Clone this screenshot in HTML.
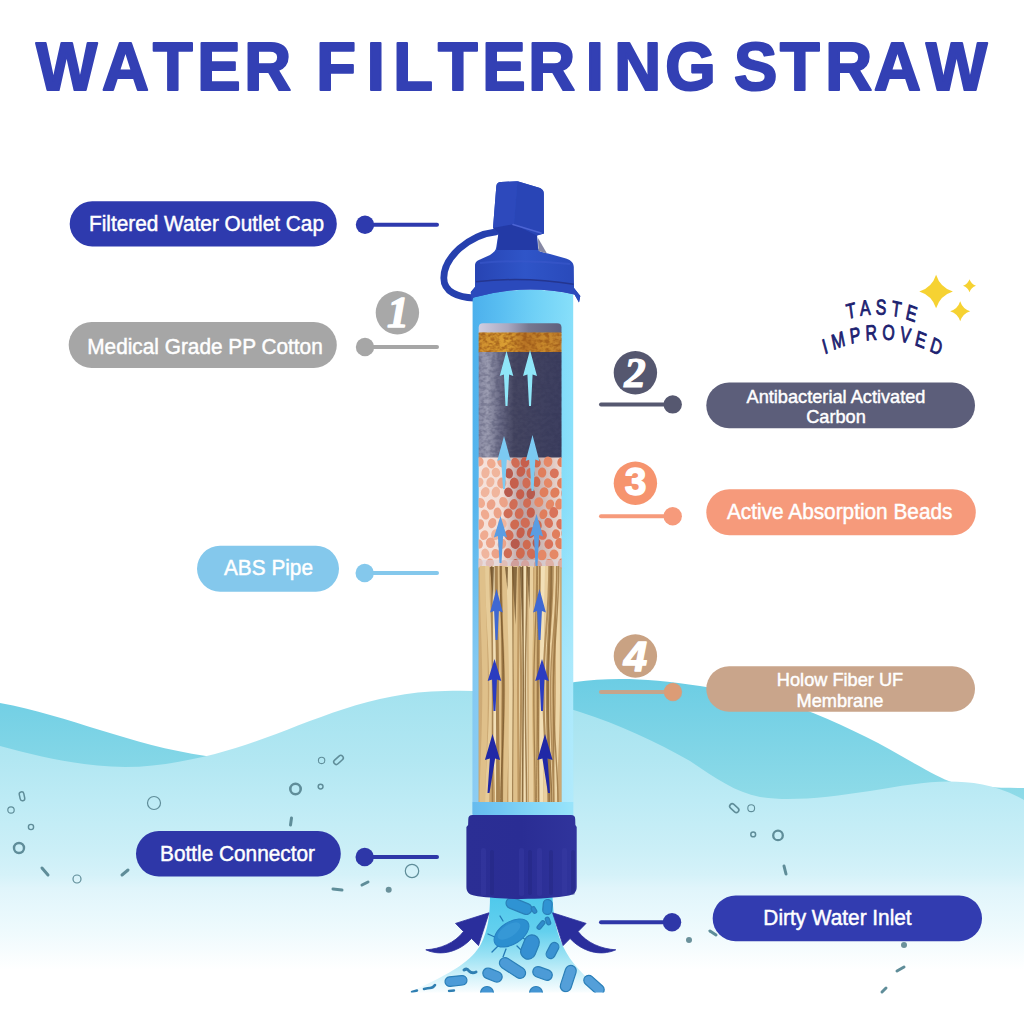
<!DOCTYPE html>
<html lang="en">
<head>
<meta charset="utf-8">
<title>Water Filtering Straw</title>
<style>
html,body{margin:0;padding:0;background:#fff;}
body{width:1024px;height:1024px;overflow:hidden;font-family:"Liberation Sans",sans-serif;}
svg{display:block;position:absolute;left:0;top:0;}
</style>
</head>
<body>
<svg width="1024" height="1024" viewBox="0 0 1024 1024">
<defs>
<linearGradient id="gFront" x1="0" y1="690" x2="0" y2="970" gradientUnits="userSpaceOnUse">
<stop offset="0" stop-color="#a3e2ef"/><stop offset="0.25" stop-color="#b2e7f2"/><stop offset="0.393" stop-color="#bdebf5"/><stop offset="0.571" stop-color="#cbeff7"/><stop offset="0.661" stop-color="#d5f2f9"/><stop offset="0.707" stop-color="#e0f5fb"/><stop offset="0.857" stop-color="#eefafd"/><stop offset="1" stop-color="#ffffff"/>
</linearGradient>
<linearGradient id="gBack" x1="0" y1="680" x2="0" y2="800" gradientUnits="userSpaceOnUse">
<stop offset="0" stop-color="#6ccde4"/><stop offset="1" stop-color="#8fdbe8"/>
</linearGradient>
<linearGradient id="gBody" x1="473" y1="0" x2="575" y2="0" gradientUnits="userSpaceOnUse">
<stop offset="0" stop-color="#4cb0ec"/><stop offset="0.25" stop-color="#58bdf1"/><stop offset="0.6" stop-color="#6fd0f6"/><stop offset="1" stop-color="#88e0fa"/>
</linearGradient>
<linearGradient id="gBodyV" x1="0" y1="300" x2="0" y2="815" gradientUnits="userSpaceOnUse">
<stop offset="0" stop-color="#ffffff" stop-opacity="0"/><stop offset="0.4" stop-color="#ffffff" stop-opacity="0.06"/><stop offset="0.7" stop-color="#ffffff" stop-opacity="0.3"/><stop offset="1" stop-color="#ffffff" stop-opacity="0.36"/>
</linearGradient>
<linearGradient id="gCap" x1="473" y1="0" x2="577" y2="0" gradientUnits="userSpaceOnUse">
<stop offset="0" stop-color="#2743b2"/><stop offset="0.5" stop-color="#2f55c8"/><stop offset="1" stop-color="#2949ba"/>
</linearGradient>
<linearGradient id="gChar" x1="479" y1="0" x2="562" y2="0" gradientUnits="userSpaceOnUse">
<stop offset="0" stop-color="#8a8ba3"/><stop offset="0.1" stop-color="#9c9db2"/><stop offset="0.25" stop-color="#6a6b86"/><stop offset="0.42" stop-color="#454661"/><stop offset="1" stop-color="#3c3e5f"/>
</linearGradient>
<linearGradient id="gGray" x1="479" y1="0" x2="562" y2="0" gradientUnits="userSpaceOnUse">
<stop offset="0" stop-color="#cfcde0"/><stop offset="0.35" stop-color="#a9a8c0"/><stop offset="0.6" stop-color="#77778f"/><stop offset="1" stop-color="#5f607c"/>
</linearGradient>
<linearGradient id="gOrange" x1="479" y1="0" x2="562" y2="0" gradientUnits="userSpaceOnUse">
<stop offset="0" stop-color="#cf9030"/><stop offset="0.35" stop-color="#dba033"/><stop offset="0.55" stop-color="#b87425"/><stop offset="0.8" stop-color="#c98a2c"/><stop offset="1" stop-color="#c08130"/>
</linearGradient>
<linearGradient id="gBeadBg" x1="479" y1="0" x2="562" y2="0" gradientUnits="userSpaceOnUse">
<stop offset="0" stop-color="#f6e3dc"/><stop offset="0.28" stop-color="#f3ddd5"/><stop offset="0.5" stop-color="#b9a3a6"/><stop offset="0.7" stop-color="#c7b0ae"/><stop offset="1" stop-color="#efd9d0"/>
</linearGradient>
<linearGradient id="gFiber" x1="479" y1="0" x2="562" y2="0" gradientUnits="userSpaceOnUse">
<stop offset="0" stop-color="#e3c592"/><stop offset="0.5" stop-color="#c9a56f"/><stop offset="1" stop-color="#e0c28f"/>
</linearGradient>
<linearGradient id="gConn" x1="466" y1="0" x2="577" y2="0" gradientUnits="userSpaceOnUse">
<stop offset="0" stop-color="#2b2e94"/><stop offset="0.5" stop-color="#2a2d94"/><stop offset="1" stop-color="#30349c"/>
</linearGradient>
<linearGradient id="gFlare" x1="0" y1="897" x2="0" y2="995" gradientUnits="userSpaceOnUse">
<stop offset="0" stop-color="#4fc9ec"/><stop offset="0.35" stop-color="#63d0ee"/><stop offset="0.6" stop-color="#9be2f4"/><stop offset="0.85" stop-color="#dcf5fb"/><stop offset="1" stop-color="#ffffff"/>
</linearGradient>
<clipPath id="cWin"><path d="M478.7,802 V327.5 Q478.7,323.2 483,323.2 H557.2 Q561.5,323.2 561.5,327.5 V802 Z"/></clipPath>
<clipPath id="cFlare"><rect x="400" y="895" width="220" height="97.5"/></clipPath>
<filter id="mottle" x="0" y="0" width="100%" height="100%" color-interpolation-filters="sRGB">
<feTurbulence type="fractalNoise" baseFrequency="0.22 0.3" numOctaves="2" seed="4" result="n"/>
<feColorMatrix in="n" type="matrix" values="0 0 0 0 0 0 0 0 0 0 0 0 0 0 0 3.2 0 0 0 -1.25" result="a"/>
<feComposite in="SourceGraphic" in2="a" operator="in"/>
</filter>
<filter id="blur1" x="-20%" y="-20%" width="140%" height="140%"><feGaussianBlur stdDeviation="0.6"/></filter>
<filter id="blur2" x="-20%" y="-20%" width="140%" height="140%"><feGaussianBlur stdDeviation="1.2"/></filter>
</defs>
<rect width="1024" height="1024" fill="#ffffff"/>
<path d="M0,703 C70,716 130,745 206,756 C300,770 400,730 473,700 L575,682 C610,677 650,678 700,686 C745,693 785,702 814.4,713.4 C850,728 882,744 915,763.8 C930,772 942,779 954,783 C975,787 1000,788 1024,788 L1024,860 L0,860 Z" fill="url(#gBack)"/>
<path d="M0,746 C40,757 80,766 125,767 C160,767 190,760 215,754 C290,735 355,692 445,691 C500,689 540,698 580,712 C620,725 655,741 690,761 C715,778 735,792 760,797 C790,802 830,797 870,791 C900,786 925,781.5 949,781.5 C972,781.5 998,785 1024,800 L1024,1024 L0,1024 Z" fill="url(#gFront)"/>
<circle cx="154" cy="803" r="6.5" fill="none" stroke="#5f8d99" stroke-width="1.2"/>
<circle cx="295.5" cy="789" r="5.2" fill="none" stroke="#5f8d99" stroke-width="2.6"/>
<circle cx="320.6" cy="786.6" r="2.4" fill="none" stroke="#5f8d99" stroke-width="1.5"/>
<circle cx="321.6" cy="760.4" r="3.2" fill="none" stroke="#5f8d99" stroke-width="1.1"/>
<circle cx="11" cy="810" r="3.2" fill="none" stroke="#5f8d99" stroke-width="1.2"/>
<circle cx="31" cy="827" r="2.6" fill="none" stroke="#5f8d99" stroke-width="1.4"/>
<circle cx="19" cy="848" r="5" fill="none" stroke="#5f8d99" stroke-width="2.4"/>
<circle cx="77" cy="879" r="4" fill="none" stroke="#5f8d99" stroke-width="1.2"/>
<circle cx="412" cy="871" r="6.7" fill="none" stroke="#5f8d99" stroke-width="1.2"/>
<circle cx="388.7" cy="889.7" r="3" fill="#6a919b"/>
<circle cx="751.2" cy="808.2" r="3.4" fill="none" stroke="#5f8d99" stroke-width="1.1"/>
<circle cx="778" cy="835.4" r="4.8" fill="none" stroke="#5f8d99" stroke-width="2.3"/>
<circle cx="753.2" cy="834.4" r="2.4" fill="none" stroke="#5f8d99" stroke-width="1.5"/>
<circle cx="689" cy="940" r="3" fill="#6a919b"/>
<circle cx="904" cy="945" r="3" fill="#6a919b"/>
<line x1="42" y1="868" x2="48" y2="875" stroke="#5f8d99" stroke-width="3" stroke-linecap="round"/>
<line x1="122" y1="875" x2="128" y2="870" stroke="#5f8d99" stroke-width="3" stroke-linecap="round"/>
<line x1="291.5" y1="818" x2="290.5" y2="825" stroke="#5f8d99" stroke-width="3" stroke-linecap="round"/>
<line x1="333" y1="889" x2="342" y2="890" stroke="#5f8d99" stroke-width="3" stroke-linecap="round"/>
<line x1="362" y1="885" x2="368" y2="882" stroke="#5f8d99" stroke-width="3" stroke-linecap="round"/>
<line x1="784" y1="866" x2="786" y2="874" stroke="#5f8d99" stroke-width="3" stroke-linecap="round"/>
<line x1="710" y1="931" x2="716" y2="935" stroke="#5f8d99" stroke-width="3" stroke-linecap="round"/>
<line x1="897" y1="971" x2="904" y2="967" stroke="#5f8d99" stroke-width="3" stroke-linecap="round"/>
<line x1="882" y1="992" x2="886" y2="988" stroke="#5f8d99" stroke-width="3" stroke-linecap="round"/>
<rect x="333" y="757.4" width="11" height="5" rx="2.5" transform="rotate(-42 338.5 759.9)" fill="none" stroke="#5f8d99" stroke-width="1.6"/>
<rect x="729" y="805.7" width="10.5" height="5" rx="2.5" transform="rotate(42 734.3 808.2)" fill="none" stroke="#5f8d99" stroke-width="1.6"/>
<rect x="17.5" y="794" width="9" height="4.6" rx="2.3" transform="rotate(78 22 796.3)" fill="none" stroke="#5f8d99" stroke-width="1.5"/>
<g clip-path="url(#cFlare)">
<path d="M490,896 C490,915 488,930 481,944 C472,960 455,972 408,993 L608,993 C590,982 575,968 566,952 C556,934 553,915 552.5,896 Z" fill="url(#gFlare)"/>
<g stroke="#2479b5" stroke-width="1.3" stroke-linecap="round" fill="none">
<path d="M497,938 L488,934 M499,945 L492,952 M506,949 L503,957 M517,946 L523,952 M503,921 L500,916 M523,938 L531,943"/>
</g>
<ellipse cx="511.5" cy="933" rx="19.5" ry="11" transform="rotate(-33 511.5 933)" fill="#2c8fd0" stroke="#2680c2" stroke-width="1"/>
<ellipse cx="509" cy="931" rx="13" ry="6" transform="rotate(-33 509 931)" fill="#3b9bd8" opacity="0.7"/>
<rect x="517.5" y="939.5" width="25" height="15" rx="7.5" transform="rotate(-68 530 947)" fill="#3590d2" stroke="#2a7fb8" stroke-width="1.2" opacity="1"/>
<rect x="544" y="946" width="17" height="9" rx="4.5" transform="rotate(-62 552.5 950.5)" fill="#3a92d2" stroke="#2a7fb8" stroke-width="1.2" opacity="1"/>
<rect x="505.5" y="900.5" width="27" height="11" rx="5.5" transform="rotate(22 519 906)" fill="#2f93d3" stroke="#2a7fb8" stroke-width="1.2" opacity="1"/>
<rect x="540" y="902.5" width="15" height="9" rx="4.5" transform="rotate(-85 547.5 907)" fill="#2f93d3" stroke="#2a7fb8" stroke-width="1.2" opacity="1"/>
<rect x="530.5" y="908" width="7" height="4" rx="2" transform="rotate(60 534 910)" fill="#2f8bcb" stroke="#2a7fb8" stroke-width="1.2" opacity="1"/>
<rect x="536" y="923" width="10" height="4" rx="2" transform="rotate(-50 541 925)" fill="#2f8bcb" stroke="#2a7fb8" stroke-width="1.2" opacity="1"/>
<rect x="544" y="919" width="8" height="4" rx="2" transform="rotate(70 548 921)" fill="#2f8bcb" stroke="#2a7fb8" stroke-width="1.2" opacity="1"/>
<rect x="498" y="962.5" width="29" height="11" rx="5.5" transform="rotate(33 512.5 968)" fill="#4c9bd7" stroke="#2a7fb8" stroke-width="1.2" opacity="1"/>
<rect x="482.5" y="969.8" width="20" height="10.5" rx="5.2" transform="rotate(22 492.5 975)" fill="#4c9bd7" stroke="#2a7fb8" stroke-width="1.2" opacity="1"/>
<rect x="532.5" y="968.2" width="20" height="10.5" rx="5.2" transform="rotate(20 542.5 973.5)" fill="#4c9bd7" stroke="#2a7fb8" stroke-width="1.2" opacity="1"/>
<rect x="554.8" y="973" width="27" height="11" rx="5.5" transform="rotate(-72 568.3 978.5)" fill="#549fd9" stroke="#2a7fb8" stroke-width="1.2" opacity="1"/>
<rect x="582" y="980" width="24" height="10" rx="5" transform="rotate(42 594 985)" fill="#549fd9" stroke="#2a7fb8" stroke-width="1.2" opacity="1"/>
<rect x="445" y="976.2" width="22" height="9.5" rx="4.8" transform="rotate(-6 456 981)" fill="#4c9bd7" stroke="#2a7fb8" stroke-width="1.2" opacity="1"/>
<rect x="480.5" y="986.5" width="13" height="13" rx="6.5" transform="rotate(0 487 993)" fill="#4495d3" stroke="#2a7fb8" stroke-width="1.2" opacity="1"/>
<rect x="529.5" y="986.5" width="13" height="13" rx="6.5" transform="rotate(0 536 993)" fill="#4495d3" stroke="#2a7fb8" stroke-width="1.2" opacity="1"/>
<path d="M464,970 q3,-2 5,1 q3,3 7,1" fill="none" stroke="#2f7fb2" stroke-width="3" stroke-linecap="round"/>
<path d="M424,989 q4,-1 6,-1 q3,0 5,-3" fill="none" stroke="#2f7fb2" stroke-width="2.6" stroke-linecap="round"/>
<path d="M412,992 l5,-1.5 M449,991 l5,-0.5" fill="none" stroke="#2f7fb2" stroke-width="2.4" stroke-linecap="round"/>
</g>
<path d="M425.8,949.8 C440,949 455,943 463.5,931.5 L455.5,923.4 L489,912.8 L478.5,945.6 L471.5,938.5 C460,951 442,957 425.8,949.8 Z" fill="#2a2e9c" stroke="#2a2e9c" stroke-width="0.8" stroke-linejoin="round"/>
<path d="M425.8,949.8 C440,949 455,943 463.5,931.5 L455.5,923.4 L489,912.8 L478.5,945.6 L471.5,938.5 C460,951 442,957 425.8,949.8 Z" transform="translate(1041.6,0) scale(-1,1)" fill="#2a2e9c" stroke="#2a2e9c" stroke-width="0.8" stroke-linejoin="round"/>
<path d="M496,231.8 C468,235 443.8,258 443.8,278 C443.8,292 458,297.5 474,298" fill="none" stroke="#2640ae" stroke-width="6.8" stroke-linecap="round"/>
<path d="M472.6,297 Q525,284 573.2,294 L573.2,814 L472.6,814 Z" fill="url(#gBody)"/>
<path d="M472.6,297 Q525,284 573.2,294 L573.2,814 L472.6,814 Z" fill="url(#gBodyV)"/>
<g clip-path="url(#cWin)">
<rect x="478" y="323" width="85" height="10" fill="url(#gGray)"/>
<rect x="478" y="332.5" width="85" height="20" fill="url(#gOrange)"/>
<rect x="478" y="332.5" width="85" height="20" fill="#9a5718" filter="url(#mottle)" opacity="0.75"/>
<rect x="478" y="352" width="85" height="106" fill="url(#gChar)"/>
<rect x="478" y="352" width="85" height="106" fill="#2f3050" filter="url(#mottle)" opacity="0.25"/>
<rect x="478" y="457.5" width="85" height="111" fill="url(#gBeadBg)"/>
<ellipse cx="479" cy="461.6" rx="4.5" ry="4.9" transform="rotate(-22.6 479 461.6)" fill="#eb9c80" opacity="0.9"/>
<ellipse cx="491.3" cy="463.6" rx="4.2" ry="4.9" transform="rotate(-23.1 491.3 463.6)" fill="#efa587" opacity="0.9"/>
<ellipse cx="501.6" cy="462.3" rx="4.1" ry="5.3" transform="rotate(-18.8 501.6 462.3)" fill="#eb9c80" opacity="0.9"/>
<ellipse cx="515.5" cy="462.7" rx="4.1" ry="5.2" transform="rotate(-22.5 515.5 462.7)" fill="#d06c55" opacity="1"/>
<ellipse cx="524.9" cy="462.3" rx="4.3" ry="5.3" transform="rotate(3.5 524.9 462.3)" fill="#c65f4c" opacity="1"/>
<ellipse cx="536.5" cy="462.7" rx="4.3" ry="4.9" transform="rotate(-6.4 536.5 462.7)" fill="#cf6a50" opacity="1"/>
<ellipse cx="548" cy="461.7" rx="4.4" ry="5.2" transform="rotate(1.6 548 461.7)" fill="#e58866" opacity="1"/>
<ellipse cx="561.8" cy="462.1" rx="4.4" ry="5" transform="rotate(14.7 561.8 462.1)" fill="#e07e5c" opacity="1"/>
<ellipse cx="485.5" cy="472.8" rx="4.1" ry="5.6" transform="rotate(11.5 485.5 472.8)" fill="#f0b096" opacity="0.9"/>
<ellipse cx="495.9" cy="472.5" rx="4.2" ry="4.8" transform="rotate(-17.4 495.9 472.5)" fill="#f0b096" opacity="0.9"/>
<ellipse cx="508.9" cy="473.4" rx="4.1" ry="5.2" transform="rotate(-8 508.9 473.4)" fill="#b85a4d" opacity="1"/>
<ellipse cx="520.9" cy="471.6" rx="4.2" ry="5.3" transform="rotate(22.2 520.9 471.6)" fill="#c65f4c" opacity="1"/>
<ellipse cx="530.6" cy="473.2" rx="4.2" ry="5.3" transform="rotate(-10.8 530.6 473.2)" fill="#d06c55" opacity="1"/>
<ellipse cx="542.1" cy="472.6" rx="4.2" ry="5" transform="rotate(5.5 542.1 472.6)" fill="#e07e5c" opacity="1"/>
<ellipse cx="554.3" cy="473.3" rx="4.5" ry="4.9" transform="rotate(-5.5 554.3 473.3)" fill="#d9735a" opacity="1"/>
<ellipse cx="566.4" cy="472.8" rx="4.5" ry="5" transform="rotate(16 566.4 472.8)" fill="#e07e5c" opacity="1"/>
<ellipse cx="479.3" cy="482.5" rx="4" ry="4.9" transform="rotate(22.9 479.3 482.5)" fill="#f0b096" opacity="0.9"/>
<ellipse cx="490.4" cy="482.2" rx="4" ry="5" transform="rotate(16.6 490.4 482.2)" fill="#f0b096" opacity="0.9"/>
<ellipse cx="501.8" cy="483" rx="4.6" ry="5.4" transform="rotate(3.3 501.8 483)" fill="#eb9c80" opacity="0.9"/>
<ellipse cx="514.3" cy="483.2" rx="4.5" ry="5.6" transform="rotate(-2.2 514.3 483.2)" fill="#c65f4c" opacity="1"/>
<ellipse cx="526.4" cy="483.1" rx="4" ry="5.3" transform="rotate(-5.1 526.4 483.1)" fill="#d06c55" opacity="1"/>
<ellipse cx="536.4" cy="481.8" rx="4" ry="5.3" transform="rotate(-3 536.4 481.8)" fill="#cf6a50" opacity="1"/>
<ellipse cx="548.1" cy="483.1" rx="4.2" ry="4.8" transform="rotate(-19.9 548.1 483.1)" fill="#e58866" opacity="1"/>
<ellipse cx="561.7" cy="483.2" rx="4.6" ry="5.3" transform="rotate(6.7 561.7 483.2)" fill="#e07e5c" opacity="1"/>
<ellipse cx="485.2" cy="492.1" rx="4.2" ry="5.2" transform="rotate(24.7 485.2 492.1)" fill="#f0b096" opacity="0.9"/>
<ellipse cx="495.8" cy="492.1" rx="4.2" ry="5.4" transform="rotate(12 495.8 492.1)" fill="#f0b096" opacity="0.9"/>
<ellipse cx="508.5" cy="492.3" rx="4.3" ry="4.8" transform="rotate(-17.7 508.5 492.3)" fill="#b85a4d" opacity="1"/>
<ellipse cx="520.2" cy="494.3" rx="4.1" ry="5.1" transform="rotate(9.8 520.2 494.3)" fill="#c65f4c" opacity="1"/>
<ellipse cx="530.8" cy="493.8" rx="4.3" ry="5.4" transform="rotate(6.8 530.8 493.8)" fill="#b85a4d" opacity="1"/>
<ellipse cx="544" cy="492.3" rx="4.4" ry="5" transform="rotate(15.9 544 492.3)" fill="#e07e5c" opacity="1"/>
<ellipse cx="554.9" cy="492.7" rx="4.5" ry="5.2" transform="rotate(24.5 554.9 492.7)" fill="#e07e5c" opacity="1"/>
<ellipse cx="565.7" cy="493.4" rx="4.6" ry="5.6" transform="rotate(-2.6 565.7 493.4)" fill="#d9735a" opacity="1"/>
<ellipse cx="480.7" cy="502.9" rx="4.2" ry="5.1" transform="rotate(-19.9 480.7 502.9)" fill="#efa587" opacity="0.9"/>
<ellipse cx="491.1" cy="504.6" rx="4.2" ry="5.3" transform="rotate(17 491.1 504.6)" fill="#eb9c80" opacity="0.9"/>
<ellipse cx="503.5" cy="502.2" rx="4.2" ry="5.4" transform="rotate(-19 503.5 502.2)" fill="#eb9c80" opacity="0.9"/>
<ellipse cx="513.5" cy="504.3" rx="4.1" ry="5.4" transform="rotate(14.5 513.5 504.3)" fill="#d06c55" opacity="1"/>
<ellipse cx="527.1" cy="503" rx="4" ry="4.9" transform="rotate(12.2 527.1 503)" fill="#d06c55" opacity="1"/>
<ellipse cx="538.8" cy="502.1" rx="4.5" ry="4.9" transform="rotate(20.2 538.8 502.1)" fill="#e58866" opacity="1"/>
<ellipse cx="549.9" cy="504.5" rx="4" ry="5.2" transform="rotate(21.9 549.9 504.5)" fill="#e58866" opacity="1"/>
<ellipse cx="559.5" cy="504.1" rx="4.3" ry="5.5" transform="rotate(7.5 559.5 504.1)" fill="#e58866" opacity="1"/>
<ellipse cx="485.1" cy="514.5" rx="4" ry="5.2" transform="rotate(-23.6 485.1 514.5)" fill="#efa587" opacity="0.9"/>
<ellipse cx="497.6" cy="513" rx="4" ry="5.5" transform="rotate(-4 497.6 513)" fill="#eb9c80" opacity="0.9"/>
<ellipse cx="508.1" cy="513.4" rx="4.5" ry="4.9" transform="rotate(16.4 508.1 513.4)" fill="#d06c55" opacity="1"/>
<ellipse cx="519.2" cy="513.5" rx="4.3" ry="5.4" transform="rotate(13.8 519.2 513.5)" fill="#d06c55" opacity="1"/>
<ellipse cx="530.8" cy="512.6" rx="4.1" ry="5.2" transform="rotate(2.8 530.8 512.6)" fill="#c65f4c" opacity="1"/>
<ellipse cx="543.4" cy="514.2" rx="3.9" ry="5" transform="rotate(19.2 543.4 514.2)" fill="#e07e5c" opacity="1"/>
<ellipse cx="553.7" cy="512.5" rx="4.4" ry="5.5" transform="rotate(3.1 553.7 512.5)" fill="#d9735a" opacity="1"/>
<ellipse cx="566.4" cy="513.8" rx="4" ry="5" transform="rotate(5.3 566.4 513.8)" fill="#e58866" opacity="1"/>
<ellipse cx="479.5" cy="524.5" rx="4.4" ry="5.5" transform="rotate(22.1 479.5 524.5)" fill="#eb9c80" opacity="0.9"/>
<ellipse cx="492.2" cy="523.1" rx="4" ry="5.2" transform="rotate(19.6 492.2 523.1)" fill="#eb9c80" opacity="0.9"/>
<ellipse cx="502.5" cy="523.4" rx="4.1" ry="4.9" transform="rotate(-21.4 502.5 523.4)" fill="#f0b096" opacity="0.9"/>
<ellipse cx="514.7" cy="524.4" rx="4.4" ry="5.1" transform="rotate(22 514.7 524.4)" fill="#cf6a50" opacity="1"/>
<ellipse cx="525.3" cy="522.8" rx="4.6" ry="5.1" transform="rotate(-14 525.3 522.8)" fill="#d06c55" opacity="1"/>
<ellipse cx="537.5" cy="525" rx="4.2" ry="5.2" transform="rotate(-16.9 537.5 525)" fill="#cf6a50" opacity="1"/>
<ellipse cx="548.7" cy="522.9" rx="4.2" ry="5.1" transform="rotate(-20.4 548.7 522.9)" fill="#d9735a" opacity="1"/>
<ellipse cx="560.6" cy="524.2" rx="4.3" ry="5.2" transform="rotate(-8.4 560.6 524.2)" fill="#d9735a" opacity="1"/>
<ellipse cx="484.2" cy="535.2" rx="4" ry="5" transform="rotate(23.6 484.2 535.2)" fill="#efa587" opacity="0.9"/>
<ellipse cx="495.7" cy="534.6" rx="4.5" ry="5.5" transform="rotate(12.8 495.7 534.6)" fill="#f0b096" opacity="0.9"/>
<ellipse cx="509" cy="535.1" rx="4.5" ry="5.3" transform="rotate(-17.5 509 535.1)" fill="#d06c55" opacity="1"/>
<ellipse cx="520.6" cy="532.8" rx="4" ry="5.5" transform="rotate(15 520.6 532.8)" fill="#c65f4c" opacity="1"/>
<ellipse cx="531.1" cy="532.6" rx="4" ry="5.5" transform="rotate(15.1 531.1 532.6)" fill="#c65f4c" opacity="1"/>
<ellipse cx="542.2" cy="534.8" rx="4.6" ry="5.1" transform="rotate(-24.4 542.2 534.8)" fill="#d9735a" opacity="1"/>
<ellipse cx="556" cy="534.2" rx="4.1" ry="4.9" transform="rotate(1.3 556 534.2)" fill="#e07e5c" opacity="1"/>
<ellipse cx="565.6" cy="532.7" rx="4.3" ry="5.2" transform="rotate(21.6 565.6 532.7)" fill="#e07e5c" opacity="1"/>
<ellipse cx="478.7" cy="544" rx="4.1" ry="4.8" transform="rotate(-16.1 478.7 544)" fill="#eb9c80" opacity="0.9"/>
<ellipse cx="490.5" cy="542.8" rx="4.6" ry="5.2" transform="rotate(0.3 490.5 542.8)" fill="#eb9c80" opacity="0.9"/>
<ellipse cx="502" cy="544" rx="4.2" ry="5.2" transform="rotate(15.9 502 544)" fill="#eb9c80" opacity="0.9"/>
<ellipse cx="515.2" cy="543.8" rx="4.6" ry="5.1" transform="rotate(9.4 515.2 543.8)" fill="#b85a4d" opacity="1"/>
<ellipse cx="526.8" cy="544.6" rx="4.1" ry="4.8" transform="rotate(-4.8 526.8 544.6)" fill="#cf6a50" opacity="1"/>
<ellipse cx="536.5" cy="543" rx="3.9" ry="5.3" transform="rotate(-3.5 536.5 543)" fill="#b85a4d" opacity="1"/>
<ellipse cx="548.8" cy="544.1" rx="4.4" ry="4.8" transform="rotate(4.9 548.8 544.1)" fill="#d9735a" opacity="1"/>
<ellipse cx="559.9" cy="543.5" rx="4.6" ry="5.6" transform="rotate(-11.8 559.9 543.5)" fill="#e07e5c" opacity="1"/>
<ellipse cx="485.4" cy="553.6" rx="4" ry="5.1" transform="rotate(-14.1 485.4 553.6)" fill="#f0b096" opacity="0.9"/>
<ellipse cx="495.8" cy="553.7" rx="4.3" ry="4.8" transform="rotate(-15 495.8 553.7)" fill="#eb9c80" opacity="0.9"/>
<ellipse cx="507.9" cy="553.2" rx="4.2" ry="5" transform="rotate(4.3 507.9 553.2)" fill="#d06c55" opacity="1"/>
<ellipse cx="520.4" cy="553.2" rx="4.4" ry="5.5" transform="rotate(7.9 520.4 553.2)" fill="#cf6a50" opacity="1"/>
<ellipse cx="531.4" cy="553.8" rx="4.4" ry="5.3" transform="rotate(-17.5 531.4 553.8)" fill="#d06c55" opacity="1"/>
<ellipse cx="542.1" cy="555.2" rx="4.4" ry="5.4" transform="rotate(6.4 542.1 555.2)" fill="#e58866" opacity="1"/>
<ellipse cx="554" cy="554.4" rx="4.5" ry="4.8" transform="rotate(3.4 554 554.4)" fill="#e58866" opacity="1"/>
<ellipse cx="567" cy="555.1" rx="4.4" ry="5" transform="rotate(9.1 567 555.1)" fill="#e58866" opacity="1"/>
<ellipse cx="478.3" cy="563.5" rx="4.2" ry="5.2" transform="rotate(23 478.3 563.5)" fill="#f0b096" opacity="0.9"/>
<ellipse cx="489.9" cy="563.2" rx="4.2" ry="4.8" transform="rotate(9 489.9 563.2)" fill="#eb9c80" opacity="0.9"/>
<ellipse cx="503.5" cy="565.1" rx="4" ry="5.2" transform="rotate(19.9 503.5 565.1)" fill="#eb9c80" opacity="0.9"/>
<ellipse cx="514.9" cy="564.4" rx="4.1" ry="5.4" transform="rotate(17.3 514.9 564.4)" fill="#c65f4c" opacity="1"/>
<ellipse cx="525.2" cy="564.9" rx="4.2" ry="5.2" transform="rotate(-0.3 525.2 564.9)" fill="#d06c55" opacity="1"/>
<ellipse cx="538" cy="565.2" rx="4" ry="5" transform="rotate(-21.1 538 565.2)" fill="#cf6a50" opacity="1"/>
<ellipse cx="549.7" cy="564" rx="4.2" ry="5.2" transform="rotate(-18.3 549.7 564)" fill="#e58866" opacity="1"/>
<ellipse cx="561.9" cy="563.5" rx="4.1" ry="5.2" transform="rotate(8.8 561.9 563.5)" fill="#e07e5c" opacity="1"/>
<rect x="478" y="560" width="85" height="8" fill="#d9d4dc" opacity="0.55"/>
<rect x="478" y="567.5" width="85" height="236" fill="#b48c55"/>
<rect x="478" y="567.5" width="85" height="236" fill="url(#gFiber)" opacity="0.55"/>
<path d="M482.6,566 C482.6,620 485.1,640 485.1,690 C485.1,740 482.4,770 482.4,805" fill="none" stroke="#dfc08a" stroke-width="5.6"/>
<path d="M487.1,566 C487.1,620 491.3,640 491.3,690 C491.3,740 487.1,770 487.1,805" fill="none" stroke="#e6cb98" stroke-width="4.1"/>
<path d="M494.3,566 C494.3,620 493.8,640 493.8,690 C493.8,740 497.2,770 497.2,805" fill="none" stroke="#f2dfb6" stroke-width="4.1"/>
<path d="M498.2,566 C498.2,620 499.2,640 499.2,690 C499.2,740 498.8,770 498.8,805" fill="none" stroke="#dfc08a" stroke-width="4.1"/>
<path d="M504.1,566 C504.1,620 507.7,640 507.7,690 C507.7,740 504.4,770 504.4,805" fill="none" stroke="#dfc08a" stroke-width="5.1"/>
<path d="M509.4,566 C509.4,620 511.7,640 511.7,690 C511.7,740 511,770 511,805" fill="none" stroke="#ecd5a6" stroke-width="5.3"/>
<path d="M516,566 C516,620 515.1,640 515.1,690 C515.1,740 515.6,770 515.6,805" fill="none" stroke="#dfc08a" stroke-width="3.7"/>
<path d="M521.5,566 C521.5,620 521,640 521,690 C521,740 521,770 521,805" fill="none" stroke="#ecd5a6" stroke-width="3.7"/>
<path d="M525,566 C525,620 525.1,640 525.1,690 C525.1,740 525.6,770 525.6,805" fill="none" stroke="#f2dfb6" stroke-width="4.5"/>
<path d="M530.7,566 C530.7,620 531,640 531,690 C531,740 531.2,770 531.2,805" fill="none" stroke="#e9cf9e" stroke-width="4.9"/>
<path d="M536.8,566 C536.8,620 534.5,640 534.5,690 C534.5,740 536.3,770 536.3,805" fill="none" stroke="#d8b77f" stroke-width="5.1"/>
<path d="M542.8,566 C542.8,620 542,640 542,690 C542,740 541.2,770 541.2,805" fill="none" stroke="#f2dfb6" stroke-width="4.4"/>
<path d="M547.1,566 C547.1,620 547,640 547,690 C547,740 545.4,770 545.4,805" fill="none" stroke="#e9cf9e" stroke-width="4.2"/>
<path d="M553.2,566 C553.2,620 549,640 549,690 C549,740 550.2,770 550.2,805" fill="none" stroke="#e9cf9e" stroke-width="5.2"/>
<path d="M557.7,566 C557.7,620 558,640 558,690 C558,740 555,770 555,805" fill="none" stroke="#ecd5a6" stroke-width="4"/>
<path d="M495.5,566 C495.5,620 497,640 497,690 C497,740 497,770 497,805" fill="none" stroke="#9c7845" stroke-width="1.9" opacity="0.85"/>
<path d="M539.7,566 C539.7,620 537.5,640 537.5,690 C537.5,740 538.8,770 538.8,805" fill="none" stroke="#a98450" stroke-width="1.2" opacity="0.85"/>
<path d="M539.9,566 C539.9,620 538.4,640 538.4,690 C538.4,740 538.7,770 538.7,805" fill="none" stroke="#9c7845" stroke-width="1" opacity="0.85"/>
<path d="M551.1,566 C551.1,620 548.2,640 548.2,690 C548.2,740 549.3,770 549.3,805" fill="none" stroke="#7d5c30" stroke-width="1.8" opacity="0.85"/>
<path d="M549.2,566 C549.2,620 543.3,640 543.3,690 C543.3,740 548.4,770 548.4,805" fill="none" stroke="#a98450" stroke-width="2" opacity="0.85"/>
<path d="M519.7,566 C519.7,620 521.1,640 521.1,690 C521.1,740 519.7,770 519.7,805" fill="none" stroke="#a98450" stroke-width="2" opacity="0.85"/>
<path d="M501.1,566 C501.1,620 502.9,640 502.9,690 C502.9,740 502.1,770 502.1,805" fill="none" stroke="#8f6c3c" stroke-width="1.9" opacity="0.85"/>
<path d="M537.6,566 C537.6,620 537.2,640 537.2,690 C537.2,740 536.6,770 536.6,805" fill="none" stroke="#8f6c3c" stroke-width="0.9" opacity="0.85"/>
<path d="M491.7,566 C491.7,620 492.6,640 492.6,690 C492.6,740 492.5,770 492.5,805" fill="none" stroke="#9c7845" stroke-width="1.6" opacity="0.85"/>
<path d="M522.7,566 C522.7,620 523.3,640 523.3,690 C523.3,740 522.5,770 522.5,805" fill="none" stroke="#7d5c30" stroke-width="1.5" opacity="0.85"/>
<path d="M526.9,566 C526.9,620 525.4,640 525.4,690 C525.4,740 526.6,770 526.6,805" fill="none" stroke="#8f6c3c" stroke-width="1.5" opacity="0.85"/>
<path d="M558.7,566 C558.7,620 553.5,640 553.5,690 C553.5,740 558.1,770 558.1,805" fill="none" stroke="#9c7845" stroke-width="1.4" opacity="0.85"/>
<path d="M500.1,566 C500.1,620 504,640 504,690 C504,740 500.7,770 500.7,805" fill="none" stroke="#7d5c30" stroke-width="1" opacity="0.85"/>
<path d="M496.9,566 C496.9,620 498.2,640 498.2,690 C498.2,740 499.1,770 499.1,805" fill="none" stroke="#9c7845" stroke-width="1.6" opacity="0.85"/>
<path d="M553.2,566 C553.2,620 547.6,640 547.6,690 C547.6,740 551.1,770 551.1,805" fill="none" stroke="#a98450" stroke-width="1.3" opacity="0.85"/>
<path d="M512.5,566 C512.5,620 513.2,640 513.2,690 C513.2,740 512.6,770 512.6,805" fill="none" stroke="#8f6c3c" stroke-width="1.1" opacity="0.85"/>
<path d="M556.7,566 C556.7,620 553.4,640 553.4,690 C553.4,740 553.9,770 553.9,805" fill="none" stroke="#9c7845" stroke-width="1.2" opacity="0.85"/>
<path d="M550.5,566 C550.5,620 546.5,640 546.5,690 C546.5,740 549.3,770 549.3,805" fill="none" stroke="#9c7845" stroke-width="1.4" opacity="0.85"/>
<path d="M552.1,566 C552.1,620 547.6,640 547.6,690 C547.6,740 551.9,770 551.9,805" fill="none" stroke="#8f6c3c" stroke-width="1.1" opacity="0.85"/>
<path d="M557,566 C557,620 550.5,640 550.5,690 C550.5,740 553.6,770 553.6,805" fill="none" stroke="#a98450" stroke-width="1.4" opacity="0.85"/>
<path d="M536.8,566 C536.8,620 533.8,640 533.8,690 C533.8,740 535.3,770 535.3,805" fill="none" stroke="#9c7845" stroke-width="1.3" opacity="0.85"/>
<path d="M496.3,566 C496.3,620 497.7,640 497.7,690 C497.7,740 498.6,770 498.6,805" fill="none" stroke="#a98450" stroke-width="1.8" opacity="0.85"/>
<path d="M490,567 L494,567 L493.0,600 Z" fill="#6b4d28" opacity="0.75"/>
<path d="M512,567 L517,567 L515.5,625 Z" fill="#6b4d28" opacity="0.75"/>
<path d="M520,567 L523,567 L522.5,640 Z" fill="#6b4d28" opacity="0.75"/>
<path d="M527,567 L530,567 L529.5,610 Z" fill="#6b4d28" opacity="0.75"/>
<path d="M505,567 L508,567 L507.5,590 Z" fill="#6b4d28" opacity="0.75"/>
<path d="M506.5,351 L513.3,376 L509.1,374.5 L507.5,406 L505.5,406 L503.9,374.5 L499.7,376 Z" fill="#8fe6f8" opacity="1"/>
<path d="M530,350 L537,376 L532.6,374.5 L531,406 L529,406 L527.4,374.5 L523,376 Z" fill="#8fe6f8" opacity="1"/>
<path d="M504,436 L510.8,461 L506.8,459.5 L505,489 L503,489 L501.2,459.5 L497.2,461 Z" fill="#7ccaf2" opacity="1"/>
<path d="M532.5,435 L539.3,461 L535.3,459.5 L533.5,491 L531.5,491 L529.7,459.5 L525.7,461 Z" fill="#7ccaf2" opacity="1"/>
<path d="M500.5,516 L507.1,537.5 L503.1,536 L501.5,563 L499.5,563 L497.9,536 L493.9,537.5 Z" fill="#5a9de2" opacity="1"/>
<path d="M536.5,514 L543.1,536.5 L539.1,535 L537.5,566 L535.5,566 L533.9,535 L529.9,536.5 Z" fill="#5a9de2" opacity="1"/>
<path d="M496.5,589 L502.9,612.5 L498.9,611 L497.5,640 L495.5,640 L494.1,611 L490.1,612.5 Z" fill="#3f68d2" opacity="1"/>
<path d="M539.5,589 L545.9,612.5 L541.9,611 L540.5,640 L538.5,640 L537.1,611 L533.1,612.5 Z" fill="#3f68d2" opacity="1"/>
<path d="M494.5,659 L501.3,681 L496.9,679.5 L495.5,711 L493.5,711 L492.1,679.5 L487.7,681 Z" fill="#2b3cc0" opacity="1"/>
<path d="M542,659 L548.8,681 L544.4,679.5 L543,711 L541,711 L539.6,679.5 L535.2,681 Z" fill="#2b3cc0" opacity="1"/>
<path d="M492.5,734 L500.1,760 L495.1,758.5 L489.5,793 L487.5,793 L489.9,758.5 L484.9,760 Z" fill="#2028a6" opacity="1"/>
<path d="M545,734 L552.6,760 L547.6,758.5 L550,793 L548,793 L542.4,758.5 L537.4,760 Z" fill="#2028a6" opacity="1"/>
</g>
<path d="M471.5,300.5 L470.8,292 L475,287 L475,266 C475,262 477,260.5 480,259.5 L490,255 C494,252.5 496,250 496.3,247 L498.5,233 L493,228 L496.3,186.5 C496.5,183.5 498,182 501,182 L517.5,181.2 L540,188 C543,189.5 543.8,191 543.8,194 L544,233.5 L537,235.5 L538,248 L540,251.5 L550,254 L566,258.5 C571.5,260.5 573.6,263 573.8,267 L574,288 L580.3,296 L579,302.5 L574.5,294.5 Q525,283 473.5,297.5 Z" fill="url(#gCap)"/>
<path d="M496.3,186.5 C496.5,183.5 498,182 501,182 L517.5,181.2 L514,224 L493,228 Z" fill="#2d49bc"/>
<path d="M517.5,181.2 L540,188 C543,189.5 543.8,191 543.8,194 L544,233.5 L537,235.5 L514,224 Z" fill="#2945b6"/>
<path d="M493,228 L514,224 L537,235.5 L538,250 L497,250 L498.5,233 Z" fill="#233aa6"/>
<path d="M513,224.5 L541,233" stroke="#4c64d4" stroke-width="1.6" fill="none" stroke-linecap="round"/>
<path d="M538,238 L547,253.5 L538.5,251 Z" fill="#8688a4"/>
<path d="M475,281.5 Q525,276 574,284 L574,288 L580.3,296 L579,302.5 L574.5,294.5 Q525,283 473.5,297.5 L471.5,300.5 L470.8,292 L475,287 Z" fill="#2b4abc"/>
<path d="M476,281.8 Q525,276.3 573.5,284.3" stroke="#24358f" stroke-width="1.5" fill="none"/>
<path d="M480,263 Q525,259 570,264" stroke="#3a58cc" stroke-width="2" fill="none" opacity="0.6"/>
<rect x="472.6" y="802" width="100.6" height="14" fill="url(#gBody)"/>
<rect x="472.6" y="802" width="100.6" height="14" fill="#ffffff" opacity="0.15"/>
<path d="M468.3,819 Q468.3,815 472.5,815 L571,815 Q575.2,815 575.2,819 L575.4,825 L576.7,827 L576.7,887 C576.7,892 574,894.5 569,895.5 C545,900 498,900 474,895.5 C469,894.5 466.4,892 466.4,887 L466.4,827 L468.1,825 Z" fill="url(#gConn)"/>
<rect x="481" y="848" width="5" height="48" rx="2.5" fill="#3a3ea6" opacity="0.4" filter="url(#blur1)"/>
<rect x="519" y="848" width="5" height="48" rx="2.5" fill="#3a3ea6" opacity="0.4" filter="url(#blur1)"/>
<rect x="537" y="848" width="5" height="48" rx="2.5" fill="#3a3ea6" opacity="0.4" filter="url(#blur1)"/>
<rect x="562" y="848" width="5" height="48" rx="2.5" fill="#3a3ea6" opacity="0.4" filter="url(#blur1)"/>
<rect x="490" y="850" width="4" height="45" rx="2" fill="#23277f" opacity="0.4" filter="url(#blur1)"/>
<rect x="528" y="850" width="4" height="45" rx="2" fill="#23277f" opacity="0.4" filter="url(#blur1)"/>
<rect x="549" y="850" width="4" height="45" rx="2" fill="#23277f" opacity="0.4" filter="url(#blur1)"/>
<rect x="571" y="850" width="4" height="45" rx="2" fill="#23277f" opacity="0.4" filter="url(#blur1)"/>
<g font-family="'Liberation Sans', sans-serif">
<rect x="69.7" y="201.3" width="267.1" height="45.1" rx="22.5" fill="#2e3aae"/>
<text transform="translate(206.5,231) scale(1,1.1)" font-size="20.8" text-anchor="middle" fill="#ffffff" stroke="#ffffff" stroke-width="0.45">Filtered Water Outlet Cap</text>
<line x1="365" y1="224.7" x2="437" y2="224.7" stroke="#2e3aae" stroke-width="4" stroke-linecap="round"/><circle cx="365" cy="224.7" r="9.2" fill="#2e3aae"/>
<rect x="68.7" y="322" width="268.1" height="46" rx="23" fill="#a6a6a6"/>
<text transform="translate(205,354) scale(1,1.1)" font-size="20.8" text-anchor="middle" fill="#ffffff" stroke="#ffffff" stroke-width="0.45">Medical Grade PP Cotton</text>
<line x1="365" y1="347" x2="437" y2="347" stroke="#a6a6a6" stroke-width="4" stroke-linecap="round"/><circle cx="365" cy="347" r="9.2" fill="#a6a6a6"/>
<rect x="197" y="545.8" width="142" height="45.9" rx="23" fill="#84c8ec"/>
<text transform="translate(268.5,575.2) scale(1,1.1)" font-size="20.8" text-anchor="middle" fill="#ffffff" stroke="#ffffff" stroke-width="0.45">ABS Pipe</text>
<line x1="364.7" y1="573" x2="437" y2="573" stroke="#84c8ec" stroke-width="4" stroke-linecap="round"/><circle cx="364.7" cy="573" r="9.2" fill="#84c8ec"/>
<rect x="136" y="831" width="204.8" height="45.6" rx="22.8" fill="#2e37a8"/>
<text transform="translate(237.5,860.8) scale(1,1.1)" font-size="20.8" text-anchor="middle" fill="#ffffff" stroke="#ffffff" stroke-width="0.45">Bottle Connector</text>
<line x1="364.7" y1="857" x2="437" y2="857" stroke="#2e37a8" stroke-width="4" stroke-linecap="round"/><circle cx="364.7" cy="857" r="9.2" fill="#2e37a8"/>
<rect x="706.3" y="382.6" width="268.7" height="45.6" rx="22.8" fill="#5c5e7a"/>
<text transform="translate(836,402.8) scale(1,1.0)" font-size="18.2" text-anchor="middle" fill="#ffffff" stroke="#ffffff" stroke-width="0.45">Antibacterial Activated</text>
<text transform="translate(836,422.8) scale(1,1.0)" font-size="18.2" text-anchor="middle" fill="#ffffff" stroke="#ffffff" stroke-width="0.45">Carbon</text>
<line x1="672.7" y1="404.4" x2="601" y2="404.4" stroke="#565870" stroke-width="4" stroke-linecap="round"/><circle cx="672.7" cy="404.4" r="9.2" fill="#565870"/>
<rect x="706.3" y="489.2" width="269.5" height="46" rx="23" fill="#f69a7b"/>
<text transform="translate(839.7,519) scale(1,1.1)" font-size="20.8" text-anchor="middle" fill="#ffffff" stroke="#ffffff" stroke-width="0.45">Active Absorption Beads</text>
<line x1="672.7" y1="516.3" x2="601" y2="516.3" stroke="#f69a7b" stroke-width="4" stroke-linecap="round"/><circle cx="672.7" cy="516.3" r="9.2" fill="#f69a7b"/>
<rect x="706.3" y="666.2" width="268.7" height="45.5" rx="22.8" fill="#c9a58b"/>
<text transform="translate(840,686.3) scale(1,1.0)" font-size="18.2" text-anchor="middle" fill="#ffffff" stroke="#ffffff" stroke-width="0.45">Holow Fiber UF</text>
<text transform="translate(840,706.8) scale(1,1.0)" font-size="18.2" text-anchor="middle" fill="#ffffff" stroke="#ffffff" stroke-width="0.45">Membrane</text>
<line x1="673" y1="692" x2="601" y2="692" stroke="#c6a48b" stroke-width="4" stroke-linecap="round"/><circle cx="673" cy="692" r="9.2" fill="#c6a48b"/>
<circle cx="672.7" cy="691.8" r="8.6" fill="#dc9c76"/>
<rect x="712.7" y="895.4" width="269.3" height="45.9" rx="22.9" fill="#323cb0"/>
<text transform="translate(837.5,925) scale(1,1.1)" font-size="20.8" text-anchor="middle" fill="#ffffff" stroke="#ffffff" stroke-width="0.45">Dirty Water Inlet</text>
<line x1="672" y1="922.2" x2="601" y2="922.2" stroke="#2e37a8" stroke-width="4" stroke-linecap="round"/><circle cx="672" cy="922.2" r="9.2" fill="#2e37a8"/>
</g>
<circle cx="397.4" cy="312.7" r="21.7" fill="#a8a8a8"/><text transform="translate(397.9,327.2) " font-family="'Liberation Serif', serif" font-size="44" font-weight="bold" font-style="italic" text-anchor="middle" fill="#ffffff" stroke="#ffffff" stroke-width="1.4" stroke-linejoin="round">1</text>
<circle cx="635.4" cy="372.8" r="21.7" fill="#55576f"/><text transform="translate(634.9,386.8) " font-family="'Liberation Serif', serif" font-size="43" font-weight="bold" font-style="italic" text-anchor="middle" fill="#ffffff" stroke="#ffffff" stroke-width="1.2" stroke-linejoin="round">2</text>
<circle cx="635.4" cy="483.2" r="21.7" fill="#f6946e"/><text transform="translate(635.7,495.4) " font-family="'Liberation Sans', sans-serif" font-size="39" font-weight="bold"  text-anchor="middle" fill="#ffffff" stroke="#ffffff" stroke-width="1.4" stroke-linejoin="round">3</text>
<circle cx="635.4" cy="656" r="21.7" fill="#c9a283"/><text transform="translate(635.4,670.8) " font-family="'Liberation Sans', sans-serif" font-size="42" font-weight="bold" font-style="italic" text-anchor="middle" fill="#ffffff" stroke="#ffffff" stroke-width="1.4" stroke-linejoin="round">4</text>
<g transform="translate(884,330) scale(0.74,1)" font-family="'Liberation Sans', sans-serif" font-size="21.5" fill="#1b2170" stroke="#1b2170" stroke-width="0.9" stroke-linejoin="round" letter-spacing="6.4">
<path id="arc1" d="M-54.1,-9.5 Q-2.7,-23 48.6,-5.5" fill="none" stroke="none"/>
<path id="arc2" d="M-87.8,28 Q-2.7,-9.5 82.4,29.5" fill="none" stroke="none"/>
<text><textPath href="#arc1" startOffset="52%" text-anchor="middle">TASTE</textPath></text>
<text><textPath href="#arc2" startOffset="52%" text-anchor="middle">IMPROVED</textPath></text>
</g>
<path d="M936.1,274.7 Q940.1,287.5 952.9,291.5 Q940.1,295.5 936.1,308.3 Q932.1,295.5 919.3,291.5 Q932.1,287.5 936.1,274.7 Z" fill="#f6d232"/>
<path d="M969.5,279.3 Q971.1,284.2 976,285.8 Q971.1,287.4 969.5,292.3 Q967.9,287.4 963,285.8 Q967.9,284.2 969.5,279.3 Z" fill="#f6d232"/>
<path d="M960.2,301.2 Q962.6,308.8 970.2,311.2 Q962.6,313.6 960.2,321.2 Q957.8,313.6 950.2,311.2 Q957.8,308.8 960.2,301.2 Z" fill="#f6d232"/>
<text id="title" transform="scale(0.955,1)" x="37.7 106.8 160.2 206.5 255.8 314.1 331.2 384 411.8 458.6 505 553.1 613.4 643.2 696.5 753.9 768.7 816.8 864.1 915.2 969.6" y="90.4" font-family="'Liberation Sans', sans-serif" font-weight="bold" font-size="68" fill="#3340b4" stroke="#3340b4" stroke-width="2.2" stroke-linejoin="round">WATER FILTERING STRAW</text>
</svg>
</body>
</html>
